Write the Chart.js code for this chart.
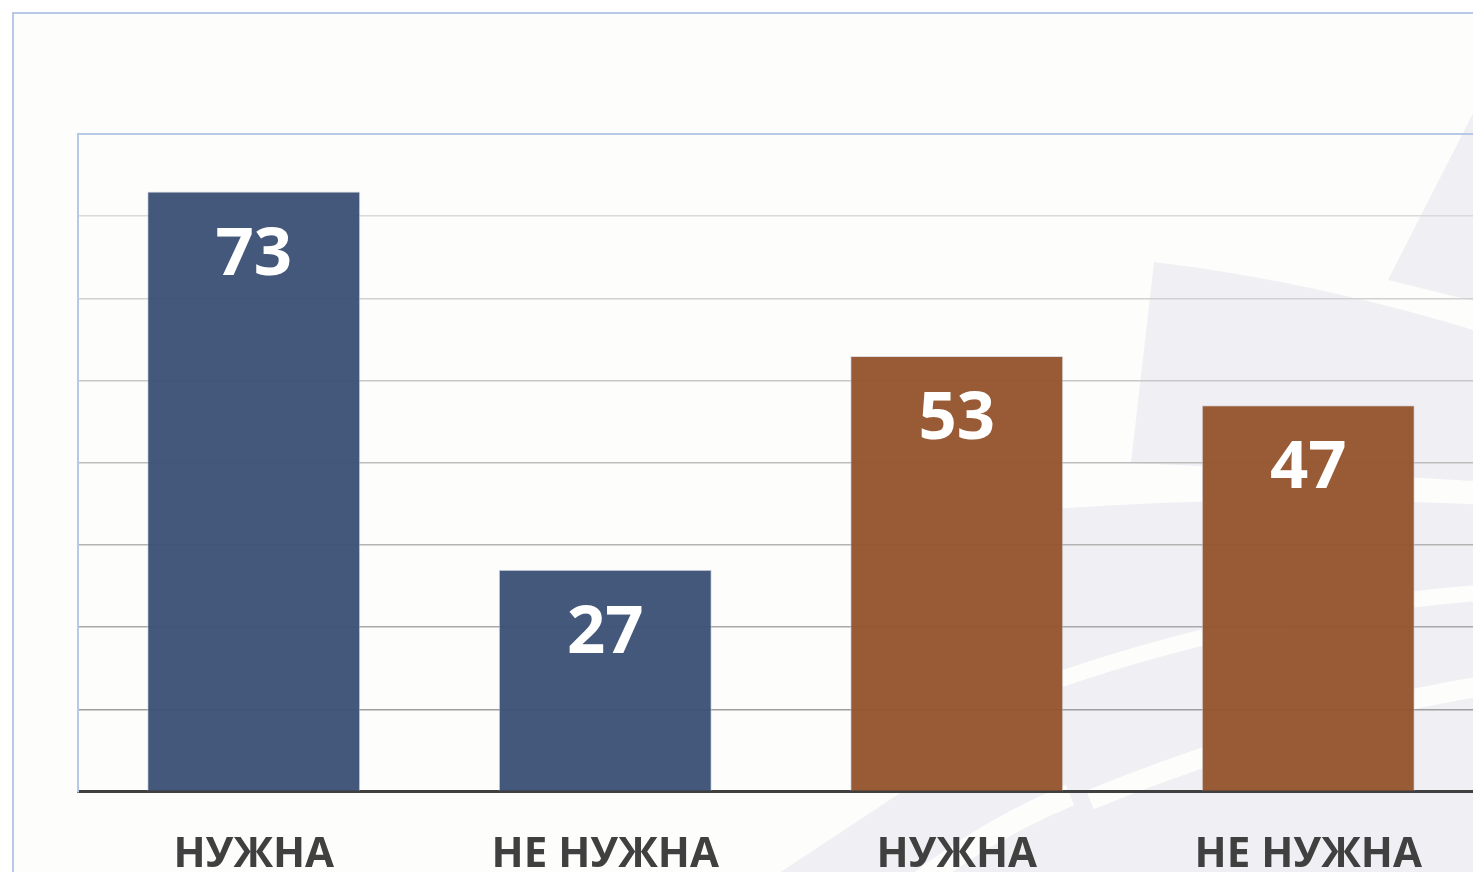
<!DOCTYPE html>
<html>
<head>
<meta charset="utf-8">
<script src="https://cdn.jsdelivr.net/npm/chart.js@4.4.0/dist/chart.umd.min.js"></script>
<style>
  html, body { margin: 0; padding: 0; background: #ffffff; overflow: hidden; }
  .frame {
    position: absolute; left: 12px; top: 12px; width: 1500px; height: 940px;
    border: 2px solid #b7c9e6; background: #fdfdfc; box-sizing: border-box;
  }
  .wrap { position: absolute; left: 0; top: 0; width: 1490px; height: 932px; }
</style>
</head>
<body>
<div class="frame"></div>
<div class="wrap"><canvas id="chart" width="1490" height="932"></canvas></div>
<script>
// chart data
const categories = ["НУЖНА", "НЕ НУЖНА", "НУЖНА", "НЕ НУЖНА"];
const values = [73, 27, 53, 47];
const barColors = ["rgba(60,81,118,0.96)", "rgba(60,81,118,0.96)", "rgba(148,84,45,0.96)", "rgba(148,84,45,0.96)"];
const yMax = 80;
const yStep = 10;

// faint background decoration, behind the plot
const watermark = {
  id: "watermark",
  beforeDraw(chart) {
    const ctx = chart.ctx;
    ctx.save();
    ctx.fillStyle = "#f0eff3";
    // upper right stripe
    ctx.beginPath();
    ctx.moveTo(1388, 280);
    ctx.lineTo(1490, 80);
    ctx.lineTo(1490, 305);
    ctx.closePath();
    ctx.fill();
    // middle block
    ctx.beginPath();
    ctx.moveTo(1154, 262);
    ctx.quadraticCurveTo(1320, 282, 1490, 335);
    ctx.lineTo(1490, 482);
    ctx.quadraticCurveTo(1290, 470, 1131, 463);
    ctx.closePath();
    ctx.fill();
    // lower block
    ctx.beginPath();
    ctx.moveTo(905, 522);
    ctx.quadraticCurveTo(1200, 490, 1490, 505);
    ctx.lineTo(1490, 932);
    ctx.lineTo(690, 932);
    ctx.lineTo(950, 760);
    ctx.closePath();
    ctx.fill();
    // white sweeps
    ctx.strokeStyle = "#fdfdfc";
    ctx.lineWidth = 16;
    ctx.beginPath();
    ctx.moveTo(1030, 690);
    ctx.quadraticCurveTo(1250, 610, 1490, 592);
    ctx.stroke();
    ctx.lineWidth = 20;
    ctx.beginPath();
    ctx.moveTo(1090, 800);
    ctx.quadraticCurveTo(1300, 715, 1490, 685);
    ctx.stroke();
    ctx.lineWidth = 22;
    ctx.beginPath();
    ctx.moveTo(860, 932);
    ctx.quadraticCurveTo(960, 840, 1070, 795);
    ctx.stroke();
    ctx.restore();
  }
};

// top edge of plot area + value labels inside bars
const extras = {
  id: "extras",
  afterDraw(chart) {
    const ctx = chart.ctx;
    const area = chart.chartArea;
    ctx.save();
    ctx.strokeStyle = "#b7c9e6";
    ctx.lineWidth = 2;
    ctx.beginPath();
    ctx.moveTo(area.left, area.top);
    ctx.lineTo(area.right, area.top);
    ctx.stroke();

    ctx.fillStyle = "#ffffff";
    ctx.font = "bold 67px 'Open Sans'";
    ctx.textAlign = "center";
    ctx.textBaseline = "middle";
    chart.getDatasetMeta(0).data.forEach((bar, i) => {
      ctx.fillText(String(values[i]), bar.x, bar.y + 64);
    });
    ctx.restore();
  }
};

const gridShades = ["#404040", "#9e9e9e", "#a8a8a8", "#b3b3b3", "#bdbdbd", "#c7c7c7", "#d1d1d1", "#dadada", "#b7c9e6"];

new Chart(document.getElementById("chart"), {
  type: "bar",
  data: {
    labels: categories,
    datasets: [{
      data: values,
      backgroundColor: barColors,
      borderColor: "rgba(205,205,215,0.7)",
      borderWidth: 1,
      barPercentage: 0.606,
      categoryPercentage: 1.0
    }]
  },
  options: {
    responsive: false,
    animation: false,
    devicePixelRatio: 1,
    layout: { padding: { left: 78, top: 134, right: 6, bottom: 14 } },
    plugins: { legend: { display: false }, tooltip: { enabled: false } },
    scales: {
      x: {
        grid: { display: false, drawTicks: false },
        border: { display: true, color: "#404040", width: 3 },
        ticks: {
          color: "#404040",
          padding: 38,
          maxRotation: 0,
          font: { family: "'Open Sans'", weight: "bold", size: 42 }
        }
      },
      y: {
        min: 0,
        max: yMax,
        ticks: { display: false, stepSize: yStep },
        grid: {
          drawTicks: false,
          lineWidth: 1.5,
          color: (c) => gridShades[c.index] || "#c8c8c8"
        },
        border: { display: true, color: "#b7c9e6", width: 2 }
      }
    }
  },
  plugins: [watermark, extras]
});
</script>
</body>
</html>
